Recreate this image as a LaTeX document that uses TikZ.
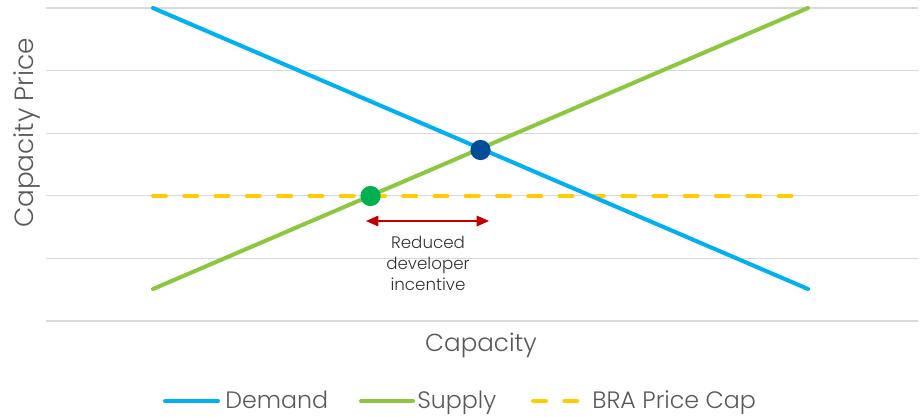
\documentclass[tikz,border=0pt]{standalone}
\usepackage{fontspec}
\setmainfont{Poppins Light}
\usetikzlibrary{positioning}
\usetikzlibrary{arrows.meta}
\definecolor{gridgray}{HTML}{D9D9D9}
\definecolor{titlegray}{HTML}{595959}
\definecolor{demandblue}{HTML}{00B0F0}
\definecolor{supplygreen}{HTML}{8DC63F}
\definecolor{capyellow}{HTML}{FFCC00}
\definecolor{eqblue}{HTML}{004C97}
\definecolor{capgreen}{HTML}{00B050}
\definecolor{gapred}{HTML}{C00000}
\tikzset{gridline/.style={draw=gridgray, line width=0.6pt}}
\tikzset{curve/.style={line width=2.3pt, line cap=round}}
\tikzset{capline/.style={curve, draw=capyellow, dash pattern=on 7.4pt off 10.4pt}}
\tikzset{dot/.style={circle, inner sep=0pt, minimum size=11.5pt}}
\tikzset{axtitle/.style={text=titlegray, font=\fontsize{15}{18}\selectfont}}
\tikzset{legtext/.style={text=titlegray, font=\fontsize{13.5}{16}\selectfont, anchor=base west, inner sep=0pt}}

\begin{document}
\begin{tikzpicture}[x=0.02cm, y=-0.02cm]
\useasboundingbox (0,0) rectangle (922,416);

% horizontal grid
\foreach \y in {8, 70.6, 133.2, 195.8, 258.4, 321}
  \draw[gridline] (46,\y) -- (918,\y);

% end points of the three series
\coordinate (dem0) at (153,8);
\coordinate (dem1) at (808,289);
\coordinate (sup0) at (153,289);
\coordinate (sup1) at (808,8);
\coordinate (cap0) at (153,196);
\coordinate (cap1) at (798,196);

\draw[capline] (cap0) -- (cap1);
\draw[curve, draw=demandblue] (dem0) -- (dem1);
\draw[curve, draw=supplygreen] (sup0) -- (sup1);

% equilibrium and capped points
\node[dot, fill=eqblue] (eq) at (480.5,150) {};
\node[dot, fill=capgreen] (capped) at (370.5,196) {};

% gap between the two quantities
\coordinate (gapL) at (366,221);
\coordinate (gapR) at (489,221);
\draw[gapred, line width=0.8pt, {Triangle[length=7pt,width=6pt]}-{Triangle[length=7pt,width=6pt]}] (gapL) -- (gapR);
\node[text=black!80, font=\fontsize{9.5}{12}\selectfont, align=center, anchor=north] (gap) at (428,230)
  {Reduced\\developer\\incentive};

% axis titles
\node[axtitle, rotate=90] (ytitle) at (27,133) {Capacity Price};
\node[axtitle, font=\fontsize{14}{17}\selectfont] (xtitle) at (481,345) {Capacity};

% legend
\coordinate (lgA) at (165,401);
\coordinate (lgB) at (361,401);
\coordinate (lgC) at (533,401);
\draw[curve, draw=demandblue] (lgA) -- ++(53,0);
\node[legtext] (demand) at (225,408) {Demand};
\draw[curve, draw=supplygreen] (lgB) -- ++(52,0);
\node[legtext] (supply) at (417,408) {Supply};
\draw[capline] (lgC) -- ++(47,0);
\node[legtext] (cap) at (592,408) {BRA Price Cap};
\end{tikzpicture}
\end{document}
